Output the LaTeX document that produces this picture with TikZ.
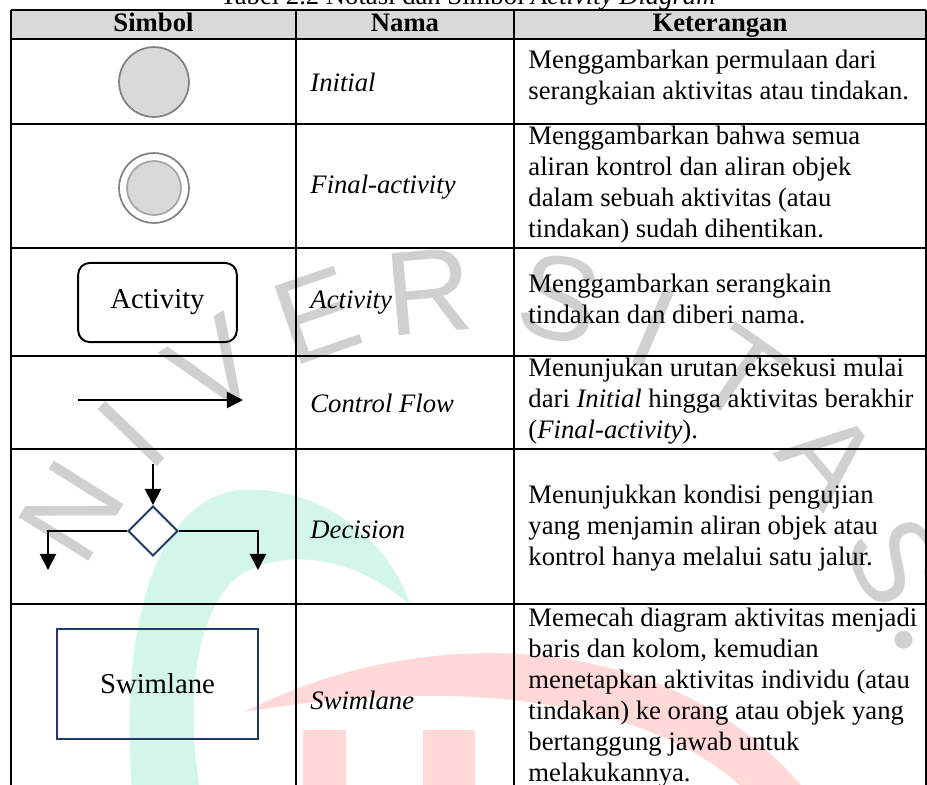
\documentclass[tikz,border=0pt]{standalone}
\usepackage{fontspec}
\setmainfont{Liberation Serif}
\setsansfont{Liberation Sans}
\usetikzlibrary{shapes.geometric,arrows.meta}
\definecolor{hdrgray}{RGB}{217,217,217}
\definecolor{circgray}{RGB}{128,128,128}
\definecolor{innergray}{RGB}{166,166,166}
\definecolor{navyline}{RGB}{31,56,100}
\definecolor{wmgray}{RGB}{208,208,208}
\definecolor{wmteal}{RGB}{210,246,233}
\definecolor{wmpink}{RGB}{255,216,216}
\tikzset{
  grid/.style={line width=0.85pt},
  cell/.style={anchor=west,inner sep=0pt,align=left,font=\fontsize{11.6}{13.5}\selectfont},
  head/.style={anchor=base,inner sep=0pt,font=\fontsize{11.6}{13.5}\selectfont\bfseries},
  flow/.style={line width=0.85pt,-{Triangle[length=7pt,width=7pt]}},
  wm/.style={inner sep=0pt,text=wmgray,font=\sffamily\fontsize{52}{52}\selectfont}
}
\begin{document}
\begin{tikzpicture}[x=0.435pt,y=-0.435pt]
\useasboundingbox (0,0) rectangle (927,785);
% watermark behind the table
\fill[wmteal] (132,790) .. controls (120,640) and (150,500) .. (240,490)
  .. controls (320,485) and (390,540) .. (410,605)
  .. controls (360,560) and (290,545) .. (240,575)
  .. controls (195,610) and (185,700) .. (200,790) -- cycle;
\fill[wmpink] (245,712) .. controls (400,630) and (660,615) .. (805,790)
  -- (745,790) .. controls (640,690) and (430,680) .. (245,712) -- cycle;
\fill[wmpink] (303,730) rectangle (346,790);
\fill[wmpink] (423,730) rectangle (475,790);
\begin{scope}[shift={(470,760)}]
  \foreach \ch/\ang in {N/148,I/136,V/123,E/109,R/95,S/79,I/67,T/55,A/40,S/25}
    \node[wm,rotate=\ang-90] (wm\ang) at (-\ang:470) {\ch};
  \fill[wmgray] (-15.5:450) circle (9);
\end{scope}
% caption (cut off at the top)
\node[anchor=base,inner sep=0pt,font=\fontsize{11.6}{13.5}\selectfont] (judul) at (468,4)
  {Tabel 2.2 Notasi dan Simbol \textit{Activity Diagram}};
% table
\fill[hdrgray] (11,10) rectangle (926,39);
\foreach \y in {10,39,124,248,356,449,604}
  \draw[grid] (11,\y) -- (926,\y);
\foreach \x in {11,296,514,926}
  \draw[grid] (\x,10) -- (\x,790);
\node[head] (hsimbol) at (153.5,31.5) {Simbol};
\node[head] (hnama) at (405,31.5) {Nama};
\node[head] (hket) at (720,31.5) {Keterangan};
% symbols
\node[circle,draw=circgray,fill=hdrgray,line width=0.75pt,minimum size=30.4pt] (initial) at (154,82) {};
\node[circle,draw=circgray,line width=0.75pt,minimum size=30.4pt] (finalout) at (154,188) {};
\node[circle,draw=innergray,fill=hdrgray,line width=0.75pt,minimum size=23.5pt] (finalin) at (154,188) {};
\node[draw,rounded corners=5pt,line width=0.85pt,minimum width=69pt,minimum height=34.4pt,
  font=\fontsize{12.5}{13.5}\selectfont] (act) at (157.5,302.5) {Activity};
\coordinate (cfa) at (78,400);
\coordinate (cfb) at (243,400);
\draw[flow] (cfa) -- (cfb);
\node[diamond,draw=navyline,line width=0.85pt,inner sep=0pt,minimum width=21.75pt,minimum height=21.75pt] (dec) at (153,531) {};
\coordinate (din) at (153,464);
\coordinate (dleft) at (48,570);
\coordinate (dright) at (258,570);
\draw[flow] (din) -- (dec.north);
\draw[flow] (dec.west) -| (dleft);
\draw[flow] (dec.east) -| (dright);
\node[draw=navyline,line width=0.8pt,minimum width=87.4pt,minimum height=47.9pt,
  font=\fontsize{12.5}{13.5}\selectfont] (swim) at (157.5,684) {Swimlane};
% names
\node[cell] (nInitial) at (310,82) {\textit{Initial}};
\node[cell] (nFinal) at (310,187) {\textit{Final-activity}};
\node[cell] (nAct) at (310,303) {\textit{Activity}};
\node[cell] (nFlow) at (310,403) {\textit{Control Flow}};
\node[cell] (nDec) at (310,530) {\textit{Decision}};
\node[cell] (nSwim) at (310,700) {\textit{Swimlane}};
% descriptions
\node[cell] (kInitial) at (528,78) {Menggambarkan permulaan dari\\serangkaian aktivitas atau tindakan.};
\node[cell] (kFinal) at (528,185) {Menggambarkan bahwa semua\\aliran kontrol dan aliran objek\\dalam sebuah aktivitas (atau\\tindakan) sudah dihentikan.};
\node[cell] (kAct) at (528,299) {Menggambarkan serangkain\\tindakan dan diberi nama.};
\node[cell] (kFlow) at (528,401) {Menunjukan urutan eksekusi mulai\\dari \textit{Initial} hingga aktivitas berakhir\\(\textit{Final-activity}).};
\node[cell] (kDec) at (528,528) {Menunjukkan kondisi pengujian\\yang menjamin aliran objek atau\\kontrol hanya melalui satu jalur.};
\node[cell] (kSwim) at (528,698) {Memecah diagram aktivitas menjadi\\baris dan kolom, kemudian\\menetapkan aktivitas individu (atau\\tindakan) ke orang atau objek yang\\bertanggung jawab untuk\\melakukannya.};
\end{tikzpicture}
\end{document}
